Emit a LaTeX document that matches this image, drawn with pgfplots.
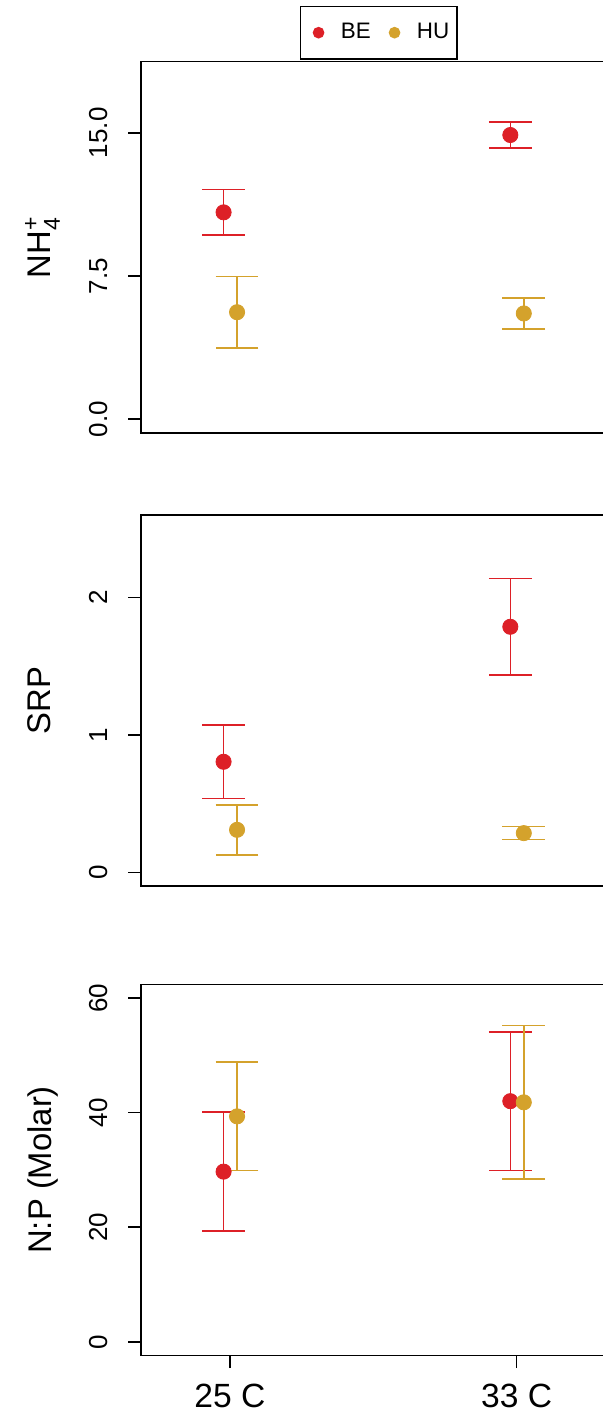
\documentclass[border=0pt]{standalone}
\usepackage{amsmath}
\usepackage{fontspec}
\setmainfont{Liberation Sans}
\usepackage{pgfplots}
\usepackage{pgfplotstable}
\pgfplotsset{compat=1.18}
\definecolor{cBE}{RGB}{221,32,39}
\definecolor{cHU}{RGB}{212,162,44}

\pgfplotstableread{
x y e
0.978 10.83 1.20
1.978 14.88 0.69
}\topBE
\pgfplotstableread{
x y e
1.025 5.60 1.875
2.025 5.535 0.805
}\topHU
\pgfplotstableread{
x y e
0.978 0.805 0.267
1.978 1.787 0.352
}\midBE
\pgfplotstableread{
x y e
1.025 0.310 0.182
2.025 0.286 0.047
}\midHU
\pgfplotstableread{
x y e
0.978 29.7 10.4
1.978 42.0 12.1
}\botBE
\pgfplotstableread{
x y e
1.025 39.35 9.45
2.025 41.8 13.4
}\botHU

\pgfplotsset{
  panel/.style={
    scale only axis, width=232.25pt, height=185.6pt,
    anchor=north west,
    xmin=0.69, xmax=2.31,
    axis line style={line width=0.8pt},
    tick style={line width=0.8pt, black},
    tick align=outside, major tick length=6.25pt,
    tick pos=left,
    yticklabel style={rotate=90, anchor=base, inner sep=0pt, yshift=10.7pt, font=\fontsize{13}{15}\selectfont},
    every axis y label/.style={at={(rel axis cs:0,0.5)}, rotate=90, anchor=base, yshift=45pt, inner sep=0pt, font=\fontsize{16.4}{20}\selectfont},
    xticklabel style={anchor=base, inner sep=0pt, yshift=-19.5pt, font=\fontsize{16.8}{20}\selectfont},
  },
  pt/.style={only marks, mark=*, mark size=3.8pt, color=#1,
    error bars/.cd, y dir=both, y explicit,
    error bar style={line width=0.8pt, solid},
    error mark options={line width=0.8pt, mark size=10.7pt, rotate=90}},
}

\begin{document}
\begin{tikzpicture}
\useasboundingbox (0,0) rectangle (301.5pt,-708pt);

\begin{axis}[panel, at={(70.5pt,-30.85pt)},
  ymin=-0.72, ymax=18.72, ytick={0,7.5,15}, yticklabels={0.0,7.5,15.0},
  xtick=\empty,
  ylabel={NH$_{\text{4}}^{\text{+}}$},
  legend style={at={(rel axis cs:0.512,1)}, anchor=south, yshift=1pt, draw=black, line width=0.8pt,
    inner xsep=3.9pt, inner ysep=6.5pt, font=\fontsize{11.2}{13}\selectfont,
    nodes={inner xsep=0pt},
    /tikz/every even column/.append style={column sep=6.85pt}},
  legend columns=2,
  legend image code/.code={\path (-4.65pt,0pt) (10.75pt,0pt);
    \draw[#1, mark size=2.5pt] plot coordinates {(0pt,0pt)};},
]
\addplot[pt=cBE] table[x=x, y=y, y error=e] {\topBE};
\addplot[pt=cHU] table[x=x, y=y, y error=e] {\topHU};
\legend{BE,HU}
\end{axis}

\begin{axis}[panel, at={(70.5pt,-257.5pt)},
  ymin=-0.1, ymax=2.6, ytick={0,1,2}, yticklabels={0,1,2},
  xtick=\empty,
  ylabel={SRP},
]
\addplot[pt=cBE] table[x=x, y=y, y error=e] {\midBE};
\addplot[pt=cHU] table[x=x, y=y, y error=e] {\midHU};
\end{axis}

\begin{axis}[panel, at={(70.5pt,-492.15pt)},
  ymin=-2.4, ymax=62.4, ytick={0,20,40,60}, yticklabels={0,20,40,60},
  xtick={1,2}, xticklabels={25 C,33 C},
  ylabel={N:P (Molar)},
]
\addplot[pt=cBE] table[x=x, y=y, y error=e] {\botBE};
\addplot[pt=cHU] table[x=x, y=y, y error=e] {\botHU};
\end{axis}
\end{tikzpicture}
\end{document}
